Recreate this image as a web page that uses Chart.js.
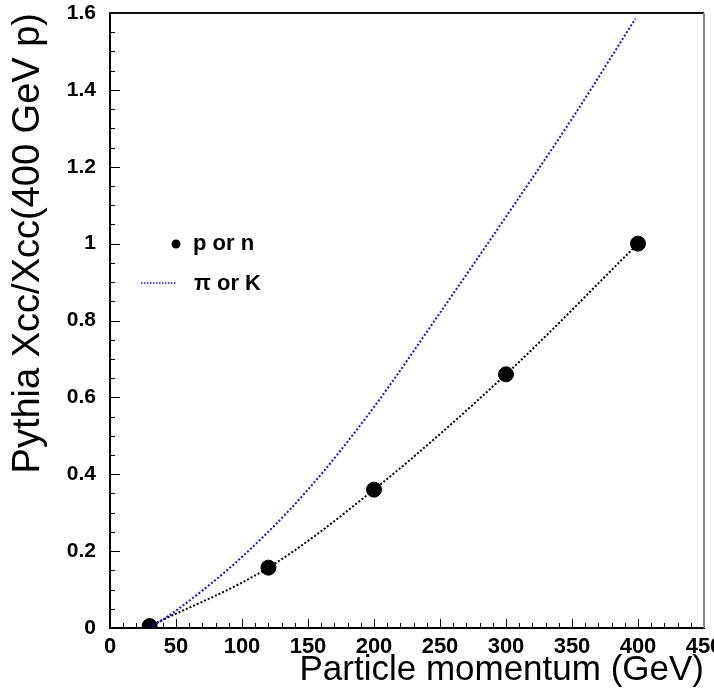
<!DOCTYPE html>
<html>
<head>
<meta charset="utf-8">
<script src="https://cdn.jsdelivr.net/npm/chart.js@4.4.1/dist/chart.umd.min.js"></script>
<style>
  html, body { margin: 0; padding: 0; background: #fff; overflow: hidden; }
  #wrap { width: 740px; height: 691px; }
</style>
</head>
<body>
<div id="wrap"><canvas id="ratioChart" width="740" height="691"></canvas></div>
<script>
// proton / neutron beam: computed points
const ppMomentum = [30, 120, 200, 300, 400];
const ppRatio = [0.005, 0.157, 0.36, 0.66, 1.0];

// pion / kaon beam: smooth curve
const piMomentum = [30, 50, 100, 150, 200, 250, 300, 350, 398];
const piRatio = [0, 0.045, 0.185, 0.36, 0.575, 0.82, 1.07, 1.325, 1.585];

const xTicks = [0, 50, 100, 150, 200, 250, 300, 350, 400, 450];
const yTicks = [0, 0.2, 0.4, 0.6, 0.8, 1.0, 1.2, 1.4, 1.6];

const legendLabels = ['p or n', 'π or K'];

const toPoints = (xs, ys) => xs.map((x, i) => ({ x: x, y: ys[i] }));

Chart.defaults.font.family = '"Liberation Sans", Arial, sans-serif';
Chart.defaults.color = '#000';

// inner tick marks, frame and legend drawn inside the plot box
const frameAndTicks = {
    id: 'frameAndTicks',
    afterDraw(chart) {
        const ctx = chart.ctx;
        const area = chart.chartArea;
        const xs = chart.scales.x;
        const ys = chart.scales.y;

        ctx.save();
        ctx.strokeStyle = '#000';
        ctx.lineWidth = 1;

        // y ticks every 0.05, long ones every 0.2
        for (let i = 0; i <= 32; i++) {
            const py = Math.round(ys.getPixelForValue(i * 0.05)) + 0.5;
            const len = i % 4 === 0 ? 10 : 5;
            ctx.beginPath();
            ctx.moveTo(area.left, py);
            ctx.lineTo(area.left + len, py);
            ctx.stroke();
        }
        // x ticks every 10, long ones every 50
        for (let i = 0; i <= 45; i++) {
            const px = Math.round(xs.getPixelForValue(i * 10)) + 0.5;
            const len = i % 5 === 0 ? 9 : 5;
            ctx.beginPath();
            ctx.moveTo(px, area.bottom);
            ctx.lineTo(px, area.bottom - len);
            ctx.stroke();
        }

        // top and right edges of the frame
        ctx.lineWidth = 2;
        ctx.strokeStyle = '#111';
        ctx.beginPath();
        ctx.moveTo(area.left, area.top);
        ctx.lineTo(area.right, area.top);
        ctx.stroke();
        ctx.strokeStyle = '#888';
        ctx.beginPath();
        ctx.moveTo(area.right, area.top);
        ctx.lineTo(area.right, area.bottom);
        ctx.stroke();

        // legend
        const ds = chart.data.datasets;
        ctx.font = 'bold 22px "Liberation Sans", Arial, sans-serif';
        ctx.fillStyle = '#000';
        ctx.textBaseline = 'alphabetic';

        ctx.beginPath();
        ctx.arc(area.left + 66, area.top + 231, 4.5, 0, Math.PI * 2);
        ctx.fillStyle = ds[1].backgroundColor;
        ctx.fill();
        ctx.fillStyle = '#000';
        ctx.fillText(legendLabels[0], area.left + 83, area.top + 237);

        ctx.strokeStyle = ds[2].borderColor;
        ctx.lineWidth = 1.5;
        ctx.setLineDash([1.5, 1.5]);
        ctx.beginPath();
        ctx.moveTo(area.left + 31, area.top + 270);
        ctx.lineTo(area.left + 66, area.top + 270);
        ctx.stroke();
        ctx.setLineDash([]);
        ctx.fillText(legendLabels[1], area.left + 84, area.top + 277);

        ctx.restore();
    }
};

new Chart(document.getElementById('ratioChart'), {
    type: 'scatter',
    data: {
        datasets: [
            {
                label: 'p or n fit',
                data: toPoints(ppMomentum, ppRatio),
                showLine: true,
                borderColor: '#000',
                borderWidth: 2,
                borderDash: [2, 2],
                pointRadius: 0,
                cubicInterpolationMode: 'monotone',
                clip: 0,
                order: 3
            },
            {
                label: legendLabels[0],
                data: toPoints(ppMomentum, ppRatio),
                showLine: false,
                backgroundColor: '#000',
                borderColor: '#000',
                pointRadius: 7.5,
                pointHoverRadius: 7.5,
                clip: 0,
                order: 2
            },
            {
                label: legendLabels[1],
                data: toPoints(piMomentum, piRatio),
                showLine: true,
                borderColor: '#1010ff',
                borderWidth: 2,
                borderDash: [2, 2],
                pointRadius: 0,
                cubicInterpolationMode: 'monotone',
                clip: 0,
                order: 1
            }
        ]
    },
    options: {
        responsive: false,
        animation: false,
        layout: { padding: { top: 0, right: 36, left: 0, bottom: 0 } },
        plugins: {
            legend: { display: false },
            tooltip: { enabled: false }
        },
        scales: {
            x: {
                type: 'linear',
                min: 0,
                max: 450,
                afterFit: s => { s.height = 63; s.paddingTop = 0; },
                afterBuildTicks: s => { s.ticks = xTicks.map(v => ({ value: v })); },
                grid: { display: false, drawTicks: false },
                border: { display: true, color: '#000', width: 2 },
                ticks: {
                    padding: 6,
                    maxRotation: 0,
                    autoSkip: false,
                    font: { size: 22, weight: 'bold' },
                    callback: v => String(v)
                },
                title: {
                    display: true,
                    text: 'Particle momentum (GeV)',
                    align: 'end',
                    font: { size: 35 },
                    padding: { top: 0, bottom: 0 }
                }
            },
            y: {
                type: 'linear',
                min: 0,
                max: 1.6,
                afterFit: s => { s.width = 110; s.paddingTop = 13; s.paddingBottom = 0; },
                afterBuildTicks: s => { s.ticks = yTicks.map(v => ({ value: v })); },
                grid: { display: false, drawTicks: false },
                border: { display: true, color: '#000', width: 2 },
                ticks: {
                    padding: 14,
                    autoSkip: false,
                    font: { size: 21, weight: 'bold' },
                    callback: v => String(Number(v.toFixed(1)))
                },
                title: {
                    display: true,
                    text: 'Pythia Xcc/Xcc(400 GeV p)',
                    align: 'end',
                    font: { size: 38 },
                    padding: { top: 6, bottom: 0 }
                }
            }
        }
    },
    plugins: [frameAndTicks]
});
</script>
</body>
</html>
